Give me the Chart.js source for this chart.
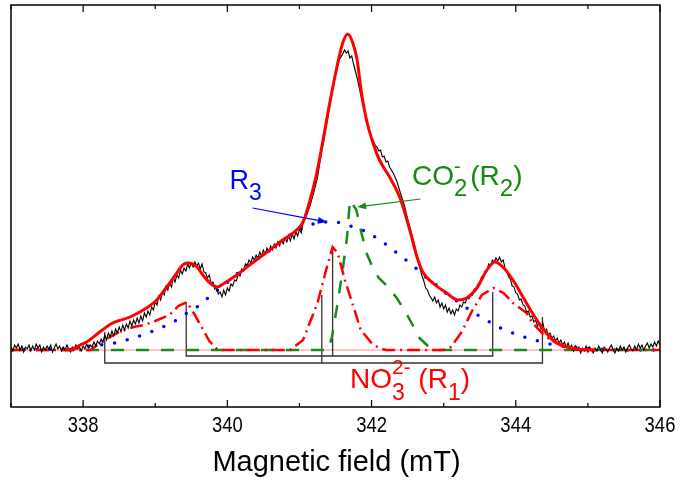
<!DOCTYPE html>
<html>
<head>
<meta charset="utf-8">
<script src="https://cdn.jsdelivr.net/npm/chart.js@4.4.1/dist/chart.umd.min.js"></script>
<style>
  html, body { margin: 0; padding: 0; background: #fff; }
  #wrap { width: 685px; height: 481px; position: relative; }
</style>
</head>
<body>
<div id="wrap"><canvas id="epr" width="685" height="481"></canvas></div>
<script>
// field axis (mT)
const fieldMin = 337;
const fieldMax = 346;
const tickLabels = ['338', '340', '342', '344', '346'];
const axisTitle = 'Magnetic field (mT)';

// experimental spectrum [field, intensity]
const expSpectrum = [
  [337.000,3],[337.025,-1],[337.050,5],[337.075,2],[337.100,6],[337.125,0],[337.150,4],[337.175,-2],[337.200,3],[337.225,1],
  [337.250,5],[337.275,-1],[337.300,4],[337.325,0],[337.350,6],[337.375,2],[337.400,5],[337.425,-2],[337.450,3],[337.475,0],
  [337.500,4],[337.525,1],[337.550,5],[337.575,-2],[337.600,2],[337.625,6],[337.650,1],[337.675,4],[337.700,-1],[337.725,3],
  [337.750,0],[337.775,5],[337.800,1],[337.825,-2],[337.850,3],[337.875,0],[337.900,5],[337.925,1],[337.950,3],[337.975,-1],
  [338.000,4],[338.025,1],[338.050,6],[338.075,2],[338.100,5],[338.125,3],[338.150,8],[338.175,4],[338.200,9],[338.225,6],
  [338.250,11],[338.275,8],[338.300,15],[338.325,10],[338.350,17],[338.375,13],[338.400,19],[338.425,14],[338.450,21],[338.475,17],
  [338.500,23],[338.525,18],[338.550,25],[338.575,20],[338.600,26],[338.625,22],[338.650,29],[338.675,24],[338.700,30],[338.725,26],
  [338.750,32],[338.775,27],[338.800,34],[338.825,29],[338.850,37],[338.875,33],[338.900,39],[338.925,35],[338.950,43],[338.975,40],
  [339.000,48],[339.025,45],[339.050,54],[339.075,50],[339.100,58],[339.125,55],[339.150,64],[339.175,60],[339.200,67],[339.225,63],
  [339.250,72],[339.275,68],[339.300,75],[339.325,72],[339.350,80],[339.375,76],[339.400,82],[339.425,79],[339.450,86],[339.475,82],
  [339.500,87],[339.525,83],[339.550,88],[339.575,84],[339.600,87],[339.625,81],[339.650,86],[339.675,78],[339.700,77],[339.725,72],
  [339.750,75],[339.775,67],[339.800,68],[339.825,61],[339.850,63],[339.875,56],[339.900,58],[339.925,53],[339.950,60],[339.975,55],
  [340.000,62],[340.025,59],[340.050,66],[340.075,64],[340.100,70],[340.125,69],[340.150,76],[340.175,74],[340.200,81],[340.225,79],
  [340.250,86],[340.275,84],[340.300,90],[340.325,87],[340.350,93],[340.375,90],[340.400,95],[340.425,92],[340.450,98],[340.475,94],
  [340.500,100],[340.525,96],[340.550,102],[340.575,98],[340.600,104],[340.625,100],[340.650,106],[340.675,102],[340.700,108],[340.725,104],
  [340.750,110],[340.775,106],[340.800,112],[340.825,108],[340.850,114],[340.875,109],[340.900,116],[340.925,111],[340.950,118],[340.975,114],
  [341.000,121],[341.025,117],[341.050,127],[341.100,135],[341.150,145],[341.200,158],[341.250,172],[341.300,195],[341.350,214],[341.400,236],
  [341.450,256],[341.500,274],[341.550,290],[341.600,296],[341.625,300],[341.650,297],[341.675,299],[341.700,292],[341.725,294],[341.750,286],
  [341.800,272],[341.850,255],[341.900,240],[341.950,222],[342.000,213],[342.050,205],[342.075,203],[342.100,199],[342.125,200],[342.150,193],
  [342.175,194],[342.200,188],[342.225,189],[342.250,183],[342.300,177],[342.350,169],[342.400,157],[342.450,146],[342.500,131],[342.550,118],
  [342.600,104],[342.650,88],[342.700,74],[342.725,69],[342.750,62],[342.775,60],[342.800,55],[342.825,52],[342.850,49],[342.875,53],
  [342.900,47],[342.925,50],[342.950,43],[342.975,47],[343.000,41],[343.025,45],[343.050,38],[343.075,42],[343.100,36],[343.125,40],
  [343.150,35],[343.175,41],[343.200,39],[343.225,45],[343.250,43],[343.275,48],[343.300,47],[343.325,52],[343.350,51],[343.375,56],
  [343.400,55],[343.425,61],[343.450,60],[343.475,66],[343.500,66],[343.525,73],[343.550,72],[343.575,79],[343.600,79],[343.625,86],
  [343.650,84],[343.675,90],[343.700,88],[343.725,92],[343.750,89],[343.775,93],[343.800,88],[343.825,90],[343.850,82],[343.875,80],
  [343.900,73],[343.925,71],[343.950,64],[343.975,63],[344.000,57],[344.025,56],[344.050,50],[344.075,51],[344.100,45],[344.125,44],
  [344.150,38],[344.175,39],[344.200,33],[344.225,34],[344.250,28],[344.275,30],[344.300,24],[344.325,26],[344.350,21],[344.375,27],
  [344.400,19],[344.425,21],[344.450,15],[344.475,17],[344.500,12],[344.525,14],[344.550,9],[344.575,12],[344.600,7],[344.625,10],
  [344.650,5],[344.675,8],[344.700,3],[344.725,7],[344.750,2],[344.775,5],[344.800,-1],[344.825,4],[344.850,0],[344.875,3],
  [344.900,-3],[344.925,2],[344.950,-1],[344.975,4],[345.000,-2],[345.025,3],[345.050,0],[345.075,-3],[345.100,2],[345.125,-1],
  [345.150,4],[345.175,0],[345.200,-3],[345.225,3],[345.250,1],[345.275,-2],[345.300,2],[345.325,5],[345.350,0],[345.375,-3],
  [345.400,2],[345.425,-1],[345.450,4],[345.475,0],[345.500,3],[345.525,-2],[345.550,2],[345.575,5],[345.600,1],[345.625,-1],
  [345.650,4],[345.675,0],[345.700,6],[345.725,2],[345.750,5],[345.775,0],[345.800,4],[345.825,7],[345.850,2],[345.875,6],
  [345.900,3],[345.925,8],[345.950,4],[345.975,9],[346.000,5]
];

// simulated total
const fitSpectrum = [
  [337.75,0],[337.85,1],[337.96,5],[338.05,8],[338.23,18],[338.41,27],[338.65,33],[338.88,42],[339.02,50],
  [339.16,63],[339.30,77],[339.38,85],[339.45,87],[339.58,83],[339.66,75],[339.76,67],[339.86,63],[339.94,66],[340.13,75],
  [340.31,85],[340.55,98],[340.77,110],[340.96,120],[341.05,128],[341.14,148],[341.24,177],[341.32,207],[341.42,247],[341.52,283],
  [341.60,307],[341.67,316],[341.74,307],[341.80,290],[341.86,257],[341.93,230],[342.02,207],[342.11,190],[342.25,173],[342.39,153],
  [342.53,120],[342.63,93],[342.71,78],[342.85,67],[343.04,57],[343.20,50],[343.32,52],[343.46,62],[343.60,80],[343.71,88],
  [343.82,83],[343.96,70],[344.10,53],[344.23,37],[344.37,22],[344.51,10],[344.71,3],[344.85,1],[345.1,0]
];

// NO3 2- (R1) component
const r1Spectrum = [
  [337.0,0],[338.1,0],[338.3,10],[338.5,18],[338.7,23],[338.85,25],[339.0,29],[339.2,35],[339.32,44],[339.44,48],
  [339.55,35],[339.65,22],[339.75,9],[339.87,0],[340.87,0],[341.05,10],[341.25,47],[341.37,80],[341.46,103],[341.53,97],
  [341.63,70],[341.75,43],[341.85,20],[342.0,7],[342.1,2],[342.2,0],[343.0,0],[343.1,3],[343.25,18],[343.4,40],
  [343.53,55],[343.69,62],[343.83,57],[343.96,47],[344.15,37],[344.23,27],[344.42,13],[344.56,7],[344.7,2],[344.9,0],
  [346.0,0]
];

// CO2- (R2) component
const r2Spectrum = [
  [337.0,0],[341.40,0],[341.45,13],[341.53,47],[341.60,80],[341.66,113],[341.70,150],[341.79,140],[341.86,117],[341.93,97],
  [342.0,85],[342.1,72],[342.2,65],[342.35,52],[342.48,37],[342.57,25],[342.65,13],[342.81,2],[342.9,0],[346.0,0]
];

// R3 component
const r3Spectrum = [
  [337.0,0],[337.8,1],[338.0,3],[338.23,5],[338.44,7],[338.65,11],[338.83,15],[339.04,21],[339.23,27],[339.40,35],
  [339.58,43],[339.73,52],[339.90,62],[340.06,71],[340.22,82],[340.38,90],[340.56,98],[340.73,108],[340.91,117],[341.10,124],
  [341.28,128],[341.52,128],[341.70,124],[341.91,119],[342.07,112],[342.25,103],[342.42,93],[342.57,85],[342.71,75],[342.90,65],
  [343.06,55],[343.22,47],[343.40,38],[343.57,31],[343.75,23],[343.96,17],[344.15,12],[344.36,8],[344.54,5],[344.75,3],
  [344.98,2],[345.3,0],[346.0,0]
];

// R1 hyperfine stick diagram
const outerField = [338.30, 341.31, 344.37];
const outerHeight = [18, 55, 33];
const outerBase = -13;
const innerField = [339.43, 341.46, 343.68];
const innerHeight = [48, 103, 58];
const innerBase = -6;

function bracket(field, height, base) {
  return [[field[0], height[0]], [field[0], base], [field[2], base], [field[2], height[2]]];
}
function stick(field, height, base) {
  return [[field[1], height[1]], [field[1], base]];
}

const FONT = '"Liberation Sans", Arial, sans-serif';

function drawRich(ctx, x, y, runs, color) {
  ctx.save();
  ctx.translate(x, y);
  ctx.fillStyle = color;
  ctx.textBaseline = 'alphabetic';
  ctx.textAlign = 'left';
  let cx = 0, stackW = 0;
  runs.forEach(r => {
    ctx.font = r.size + 'px ' + FONT;
    ctx.fillText(r.t, cx, r.dy || 0);
    const w = ctx.measureText(r.t).width;
    if (r.stack) {
      stackW = Math.max(stackW, w);
    } else {
      cx += Math.max(w, stackW) + (r.gap || 0);
      stackW = 0;
    }
  });
  ctx.restore();
}

function arrow(ctx, x1, y1, x2, y2, color) {
  const a = Math.atan2(y2 - y1, x2 - x1);
  const len = 9, half = 3.5;
  ctx.save();
  ctx.strokeStyle = color;
  ctx.fillStyle = color;
  ctx.lineWidth = 1.2;
  ctx.beginPath();
  ctx.moveTo(x1, y1);
  ctx.lineTo(x2 - len * Math.cos(a), y2 - len * Math.sin(a));
  ctx.stroke();
  ctx.beginPath();
  ctx.moveTo(x2, y2);
  ctx.lineTo(x2 - len * Math.cos(a) - half * Math.sin(a), y2 - len * Math.sin(a) + half * Math.cos(a));
  ctx.lineTo(x2 - len * Math.cos(a) + half * Math.sin(a), y2 - len * Math.sin(a) - half * Math.cos(a));
  ctx.closePath();
  ctx.fill();
  ctx.restore();
}

const framePlugin = {
  id: 'frame',
  beforeDatasetsDraw(chart) {
    const { ctx, chartArea: a, scales: { y } } = chart;
    // zero line
    ctx.save();
    ctx.strokeStyle = '#ff8c8c';
    ctx.lineWidth = 1;
    ctx.beginPath();
    ctx.moveTo(a.left, y.getPixelForValue(0));
    ctx.lineTo(a.right, y.getPixelForValue(0));
    ctx.stroke();
    ctx.restore();
  },
  afterDatasetsDraw(chart) {
    const { ctx, chartArea: a, scales: { x, y } } = chart;
    ctx.save();
    ctx.strokeStyle = '#000';
    ctx.lineWidth = 1.5;
    ctx.strokeRect(a.left, a.top, a.right - a.left, a.bottom - a.top);

    // inward ticks, top and bottom
    ctx.lineWidth = 1.2;
    x.ticks.forEach(t => {
      const px = x.getPixelForValue(t.value);
      const major = t.value % 2 === 0;
      const len = major ? 7 : 4;
      ctx.beginPath();
      ctx.moveTo(px, a.bottom);
      ctx.lineTo(px, a.bottom - len);
      ctx.moveTo(px, a.top);
      ctx.lineTo(px, a.top + len);
      ctx.stroke();
    });

    // tick labels (slightly condensed, like the original)
    ctx.fillStyle = '#000';
    ctx.textAlign = 'center';
    ctx.textBaseline = 'middle';
    ctx.font = '22px ' + FONT;
    tickLabels.forEach(lbl => {
      ctx.save();
      ctx.translate(x.getPixelForValue(Number(lbl)), a.bottom + 19);
      ctx.scale(0.84, 1);
      ctx.fillText(lbl, 0, 0);
      ctx.restore();
    });

    // axis title
    ctx.font = '29px ' + FONT;
    ctx.fillText(axisTitle, (a.left + a.right) / 2 + 1, a.bottom + 56);
    ctx.restore();

    // annotations
    const X = v => x.getPixelForValue(v);
    const Y = v => y.getPixelForValue(v);
    drawRich(ctx, X(340.03), Y(161), [
      { t: 'R', size: 27 },
      { t: '3', size: 23, dy: 11 }
    ], '#0000ff');
    arrow(ctx, X(340.35), Y(142), X(341.38), Y(128), '#0000ff');

    drawRich(ctx, X(342.56), Y(165), [
      { t: 'CO', size: 28 },
      { t: '-', size: 20, dy: -12, stack: true },
      { t: '2', size: 24, dy: 11, gap: 3 },
      { t: '(R', size: 28 },
      { t: '2', size: 24, dy: 11 },
      { t: ')', size: 28 }
    ], '#138a13');
    arrow(ctx, X(342.68), Y(151), X(341.80), Y(143), '#138a13');

    drawRich(ctx, X(341.70), Y(-38), [
      { t: 'NO', size: 28 },
      { t: '2-', size: 21, dy: -14, stack: true },
      { t: '3', size: 23, dy: 12 },
      { t: ' (R', size: 28 },
      { t: '1', size: 23, dy: 12 },
      { t: ')', size: 28 }
    ], '#ff0000');
  }
};

const stickStyle = {
  borderColor: '#333333',
  borderWidth: 1.3,
  pointRadius: 0,
  showLine: true,
  tension: 0
};

new Chart(document.getElementById('epr'), {
  type: 'scatter',
  data: {
    datasets: [
      {
        label: 'fit',
        data: fitSpectrum,
        borderColor: '#ff0000',
        borderWidth: 3,
        pointRadius: 0,
        showLine: true,
        cubicInterpolationMode: 'monotone'
      },
      {
        label: 'experiment',
        data: expSpectrum,
        borderColor: '#000000',
        borderWidth: 1.1,
        pointRadius: 0,
        showLine: true,
        tension: 0
      },
      {
        label: 'R1',
        data: r1Spectrum,
        borderColor: '#ff0000',
        borderWidth: 2.5,
        borderDash: [13, 5, 2, 5],
        pointRadius: 0,
        showLine: true,
        tension: 0
      },
      {
        label: 'R2',
        data: r2Spectrum,
        borderColor: '#1b8a1b',
        borderWidth: 2.5,
        borderDash: [13, 12],
        pointRadius: 0,
        showLine: true,
        tension: 0
      },
      {
        label: 'R3',
        data: r3Spectrum,
        borderColor: '#0000ff',
        borderWidth: 3.5,
        borderDash: [0, 13],
        borderCapStyle: 'round',
        pointRadius: 0,
        showLine: true,
        tension: 0
      },
      Object.assign({ label: 'outer', data: bracket(outerField, outerHeight, outerBase) }, stickStyle),
      Object.assign({ label: 'outer mid', data: stick(outerField, outerHeight, outerBase) }, stickStyle),
      Object.assign({ label: 'inner', data: bracket(innerField, innerHeight, innerBase) }, stickStyle),
      Object.assign({ label: 'inner mid', data: stick(innerField, innerHeight, innerBase) }, stickStyle)
    ]
  },
  options: {
    responsive: false,
    animation: false,
    events: [],
    layout: { padding: { left: 11, right: 25, top: 5, bottom: 74 } },
    plugins: { legend: { display: false }, tooltip: { enabled: false } },
    scales: {
      x: {
        type: 'linear',
        min: fieldMin,
        max: fieldMax,
        display: false,
        ticks: { stepSize: 1 }
      },
      y: {
        min: -57,
        max: 345,
        display: false
      }
    }
  },
  plugins: [framePlugin]
});
</script>
</body>
</html>
